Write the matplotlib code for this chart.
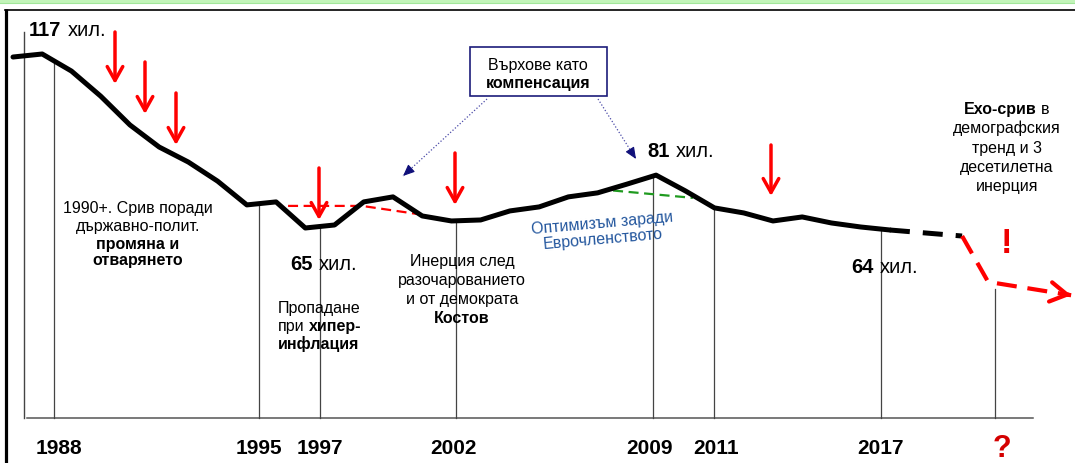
import numpy as np
import matplotlib
matplotlib.use('Agg')
import matplotlib.pyplot as plt
from matplotlib.patches import Rectangle

FONT = ['Liberation Sans', 'DejaVu Sans']
plt.rcParams['font.family'] = FONT

# ---------------- data (births, thousands) ----------------
years = list(range(1987, 2018))
births = [116.1, 117.0, 111.9, 104.4, 95.8, 89.2, 84.7, 79.0, 71.9, 72.8,
          65.0, 65.9, 72.8, 74.3, 68.6, 67.1, 67.4, 70.1, 71.3, 74.3,
          75.5, 78.1, 80.8, 76.1, 71.0, 69.5, 67.1, 68.3, 66.5, 65.3, 64.4]

proj_black_years = [2017, 2019.47]
proj_black_vals = [64.4, 62.6]
proj_red_years = [2019.47, 2020.36, 2023.2]
proj_red_vals = [62.6, 48.9, 44.9]

trend_red_years = [1996.41, 1998.94, 2000.82]
trend_red_vals = [71.6, 71.6, 69.2]
trend_green_years = [2007.53, 2010.26]
trend_green_vals = [76.2, 74.0]

tick_labels = ['1988', '1995', '1997', '2002', '2009', '2011', '2017', '?']
peak_years = [1988, 1997, 2009, 2017]

# ---------------- layout ----------------
W, H = 1075, 464
PXY = 29.23          # pixels per year
PXV = 3.346          # pixels per thousand
X0 = 1987 - 13 / PXY
X1 = X0 + W / PXY
Y1 = 117 + 55 / PXV
Y0 = Y1 - H / PXV
FS = 11.5


def P(px, py):
    return (X0 + px / PXY, Y1 - py / PXV)


def PX(xs, ys):
    return [X0 + x / PXY for x in xs], [Y1 - y / PXV for y in ys]


fig = plt.figure(figsize=(W / 100, H / 100), dpi=100)
ax = fig.add_axes([0, 0, 1, 1])
ax.set_xlim(X0, X1)
ax.set_ylim(Y0, Y1)
ax.axis('off')
renderer = fig.canvas.get_renderer()

# frame
ax.add_patch(Rectangle(P(0, 4.5), W / PXY, 4.5 / PXV, facecolor='#c2f4b9',
                       edgecolor='none', clip_on=False, zorder=0))
ax.plot(*PX([0, W], [4.3, 4.3]), color='#a2e69a', lw=0.8, clip_on=False)
ax.plot(*PX([5, W], [11, 11]), color='black', lw=1.2, clip_on=False)
ax.plot(*PX([6, 6], [10, H]), color='black', lw=2.3, clip_on=False,
        solid_capstyle='butt')

# axis lines
base_v = P(0, 419)[1]
ax.plot(*PX([24, 24], [33, 419]), color='#444444', lw=1.0, zorder=1)
ax.plot(*PX([27, 1033], [419, 419]), color='#555555', lw=1.1, zorder=1)

# vertical year lines
tick_pos = [1988.40, 1995.42, 1997.50, 2002.17, 2008.90, 2010.97, 2016.69, 2020.60]
label_shift_px = [5, 0, 0, -3, -4, 2, 0, 7]
all_x = years + proj_black_years[1:] + proj_red_years[1:]
all_v = births + proj_black_vals[1:] + proj_red_vals[1:]
for i, (pos, lab) in enumerate(zip(tick_pos, tick_labels)):
    top = np.interp(pos, all_x, all_v)
    if lab == '?':
        top -= 1.8
    ax.plot([pos, pos], [base_v, top], color='#444444', lw=0.9, zorder=1)
    xl = pos + label_shift_px[i] / PXY
    if lab == '?':
        ax.text(xl, P(0, 457)[1], lab, ha='center', va='baseline', fontsize=22,
                fontweight='bold', color='#d40000')
    else:
        ax.text(xl, P(0, 454)[1], lab, ha='center', va='baseline', fontsize=15,
                fontweight='bold', color='black')

# trend dashed lines
ax.plot(trend_red_years, trend_red_vals, color='#ff0000', lw=1.6,
        dashes=(4.5, 2.5), zorder=2)
ax.plot(trend_green_years, trend_green_vals, color='#1f9a1f', lw=1.6,
        dashes=(4.5, 2.5), zorder=2)

# main curve and projection
ax.plot(years, births, color='black', lw=3.6, solid_capstyle='round',
        solid_joinstyle='round', zorder=3)
ax.plot(proj_black_years, proj_black_vals, color='black', lw=3.6,
        dashes=(4.0, 2.6), dash_capstyle='butt', zorder=3)
ax.plot(proj_red_years, proj_red_vals, color='#ff0000', lw=3.0,
        dashes=(4.8, 2.6), dash_capstyle='butt', zorder=3)
ex, ey = proj_red_years[-1], proj_red_vals[-1]
px_, py_ = proj_red_years[-2], proj_red_vals[-2]
ax.annotate('', xy=(ex, ey), xytext=(ex - 0.03 * (ex - px_), ey - 0.03 * (ey - py_)),
            arrowprops=dict(arrowstyle='->,head_length=0.6,head_width=0.35',
                            color='#ff0000', lw=3.0, shrinkA=0, shrinkB=0,
                            mutation_scale=20), zorder=4)

# red down arrows
red_arrows = [(115, 33, 85), (145, 63, 115), (176, 94, 146),
              (319, 169, 221), (455, 154, 206), (771, 146, 197)]
for x, y1, y2 in red_arrows:
    ax.annotate('', xy=P(x, y2), xytext=P(x, y1),
                arrowprops=dict(arrowstyle='->,head_length=0.5,head_width=0.28',
                                color='#ff0000', lw=2.5, shrinkA=0, shrinkB=0,
                                mutation_scale=20), zorder=4)

# box with dotted arrows
NAVY = '#1c1c7a'
for x1, y1, x2, y2 in [(487, 100, 403, 177), (598, 100, 636, 160)]:
    ax.plot(*PX([x1, x2], [y1, y2]), color='#4a4aa8', lw=0.9,
            linestyle=(0, (1, 1.6)), zorder=2)
    dx, dy = x2 - x1, y2 - y1
    ax.annotate('', xy=P(x2, y2), xytext=P(x2 - 0.05 * dx, y2 - 0.05 * dy),
                arrowprops=dict(arrowstyle='-|>,head_length=0.7,head_width=0.3',
                                color='#10107a', lw=0.8, shrinkA=0, shrinkB=0,
                                mutation_scale=10), zorder=4)
ax.add_patch(Rectangle(P(470, 97), 137 / PXY, 49 / PXV, facecolor='white',
                       edgecolor=NAVY, lw=1.2, zorder=5))


# ---------------- text helpers ----------------
def measure(s, size, weight):
    t = ax.text(0, 0, s, fontsize=size, fontweight=weight)
    w = t.get_window_extent(renderer).width
    t.remove()
    return w


def rich_line(x, yb, parts, size=FS, ha='center', color='black', gap=None, z=6):
    widths = [measure(s, size, w) for s, w in parts]
    if gap is None:
        gap = measure('x x', size, 'normal') - measure('xx', size, 'normal')
    total = sum(widths) + gap * (len(parts) - 1)
    cx = x - total / 2 if ha == 'center' else x
    for (s, w), wd in zip(parts, widths):
        ax.text(*P(cx, yb), s, fontsize=size, fontweight=w, ha='left',
                va='baseline', color=color, zorder=z)
        cx += wd + gap


N, B = 'normal', 'bold'

# box text
rich_line(538, 70, [('Върхове като', N)])
rich_line(538, 88, [('компенсация', B)])

# number labels
num_pos = [(29, 36), (290, 270), (647, 157), (851, 273)]
for yr, (x, yb) in zip(peak_years, num_pos):
    v = births[years.index(yr)]
    rich_line(x, yb, [(f'{round(v)}', B), ('хил.', N)], size=14.5, ha='left', gap=6)

# annotation blocks
for yb, parts in zip([213, 231, 249, 265],
                     [[('1990+. Срив поради', N)], [('държавно-полит.', N)],
                      [('промяна и', B)], [('отварянето', B)]]):
    rich_line(138, yb, parts)

for yb, parts in zip([313, 331, 349],
                     [[('Пропадане', N)], [('при', N), ('хипер-', B)],
                      [('инфлация', B)]]):
    rich_line(278, yb, parts, ha='left')

for yb, parts in zip([266, 285, 304, 323],
                     [[('Инерция след', N)], [('разочарованието', N)],
                      [('и от демократа', N)], [('Костов', B)]]):
    rich_line(462, yb, parts)

for yb, parts in zip([114, 133, 153, 172, 191],
                     [[('Ехо-срив', B), ('в', N)], [('демографския', N)],
                      [('тренд и 3', N)], [('десетилетна', N)], [('инерция', N)]]):
    rich_line(1007, yb, parts)

BLUE = '#24579e'
ax.text(*P(602.5, 228), 'Оптимизъм заради', rotation=5, rotation_mode='anchor',
        ha='center', va='baseline', fontsize=FS, color=BLUE, zorder=6)
ax.text(*P(603, 244), 'Еврочленството', rotation=5, rotation_mode='anchor',
        ha='center', va='baseline', fontsize=FS, color=BLUE, zorder=6)

ax.text(*P(1007, 253), '!', ha='center', va='baseline', fontsize=25,
        fontweight='bold', color='#ee0000', zorder=6)

fig.savefig('out.png', dpi=100)
